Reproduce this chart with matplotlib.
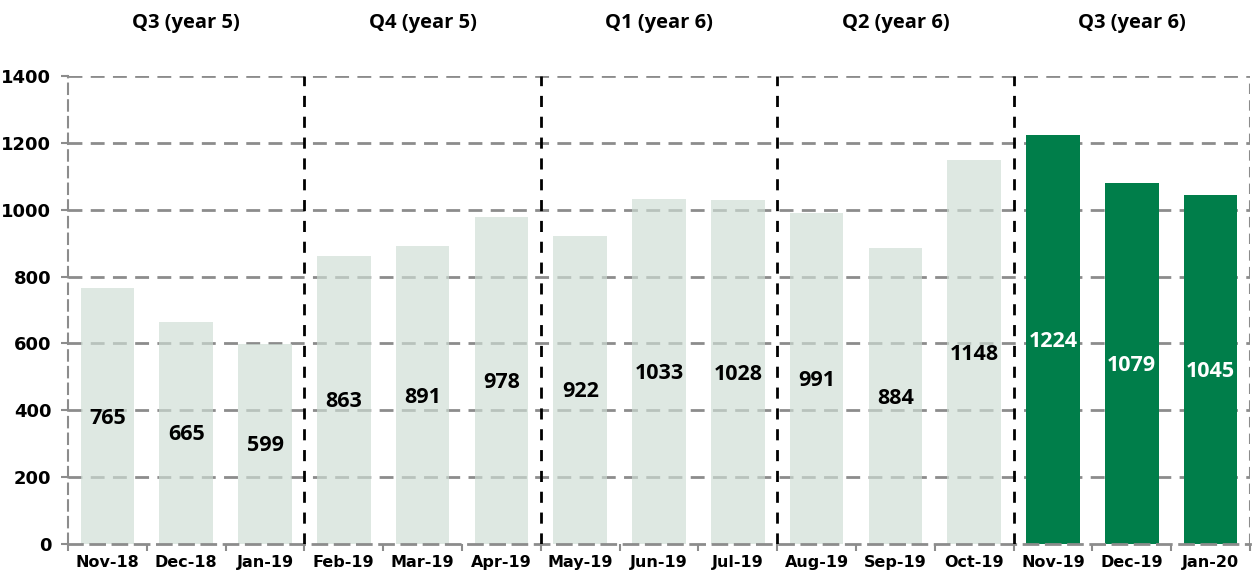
import matplotlib
matplotlib.use("Agg")
import matplotlib.pyplot as plt
import numpy as np

months = ["Nov-18", "Dec-18", "Jan-19", "Feb-19", "Mar-19", "Apr-19", "May-19", "Jun-19",
          "Jul-19", "Aug-19", "Sep-19", "Oct-19", "Nov-19", "Dec-19", "Jan-20"]
values = [765, 665, 599, 863, 891, 978, 922, 1033, 1028, 991, 884, 1148, 1224, 1079, 1045]
quarters = ["Q3 (year 5)", "Q4 (year 5)", "Q1 (year 6)", "Q2 (year 6)", "Q3 (year 6)"]
highlight = [False] * 12 + [True] * 3

light = "#cfded5"
dark = "#007e4a"

fig = plt.figure(figsize=(12.54, 5.74), dpi=100)
ax = fig.add_axes([68 / 1254, 1 - 544 / 574, (1250 - 68) / 1254, (544 - 76) / 574])

x = np.arange(len(months))
colors = [dark if h else light for h in highlight]
bars = ax.bar(x, values, width=0.68, color=colors, zorder=2)
for b, h in zip(bars, highlight):
    if not h:
        b.set_alpha(0.67)

ax.set_xlim(-0.5, len(months) - 0.5)
ax.set_ylim(0, 1400)
ax.set_yticks(np.arange(0, 1401, 200))

grid_kw = dict(color="#8c8c8c", lw=2, ls=(0, (5, 3)))
for yv in np.arange(200, 1401, 200):
    ax.axhline(yv, zorder=1, **grid_kw)
for s in ["top", "right"]:
    ax.spines[s].set_visible(False)
ax.spines["left"].set(**{"color": "#8c8c8c", "lw": 1.5, "ls": (0, (5, 3))})
ax.spines["bottom"].set(**{"color": "#8c8c8c", "lw": 2, "ls": (0, (5, 3))})
ax.axvline(len(months) - 0.5, color="#8c8c8c", lw=1.5, ls=(0, (5, 3)), zorder=1)

# quarter separators
for i in range(1, len(quarters)):
    ax.axvline(3 * i - 0.5, color="black", lw=2, ls=(0, (4, 3.5)), zorder=3)

ax.set_xticks(x)
ax.set_xticklabels(months, fontsize=11.5, fontweight="bold", family="DejaVu Sans")
ax.set_xticks(np.arange(-0.5, len(months), 1), minor=True)
ax.tick_params(axis="x", which="major", length=0, pad=8)
ax.tick_params(axis="x", which="minor", length=5, color="#8c8c8c", width=1.5)
ax.tick_params(axis="y", length=5, color="#8c8c8c", width=1.5, labelsize=13, pad=7)
for lab in ax.get_yticklabels():
    lab.set_fontweight("bold")

for xi, v, h in zip(x, values, highlight):
    ax.text(xi, v / 2 - 6, str(v), ha="center", va="center", fontsize=15.5,
            fontweight="bold", family="Open Sans", color="white" if h else "black", zorder=4)

for i, q in enumerate(quarters):
    ax.text(3 * i + 1, 1.113, q, transform=ax.get_xaxis_transform(), ha="center",
            va="center", fontsize=14.5, fontweight="bold", family="Open Sans")

fig.savefig("out.png", dpi=100)
